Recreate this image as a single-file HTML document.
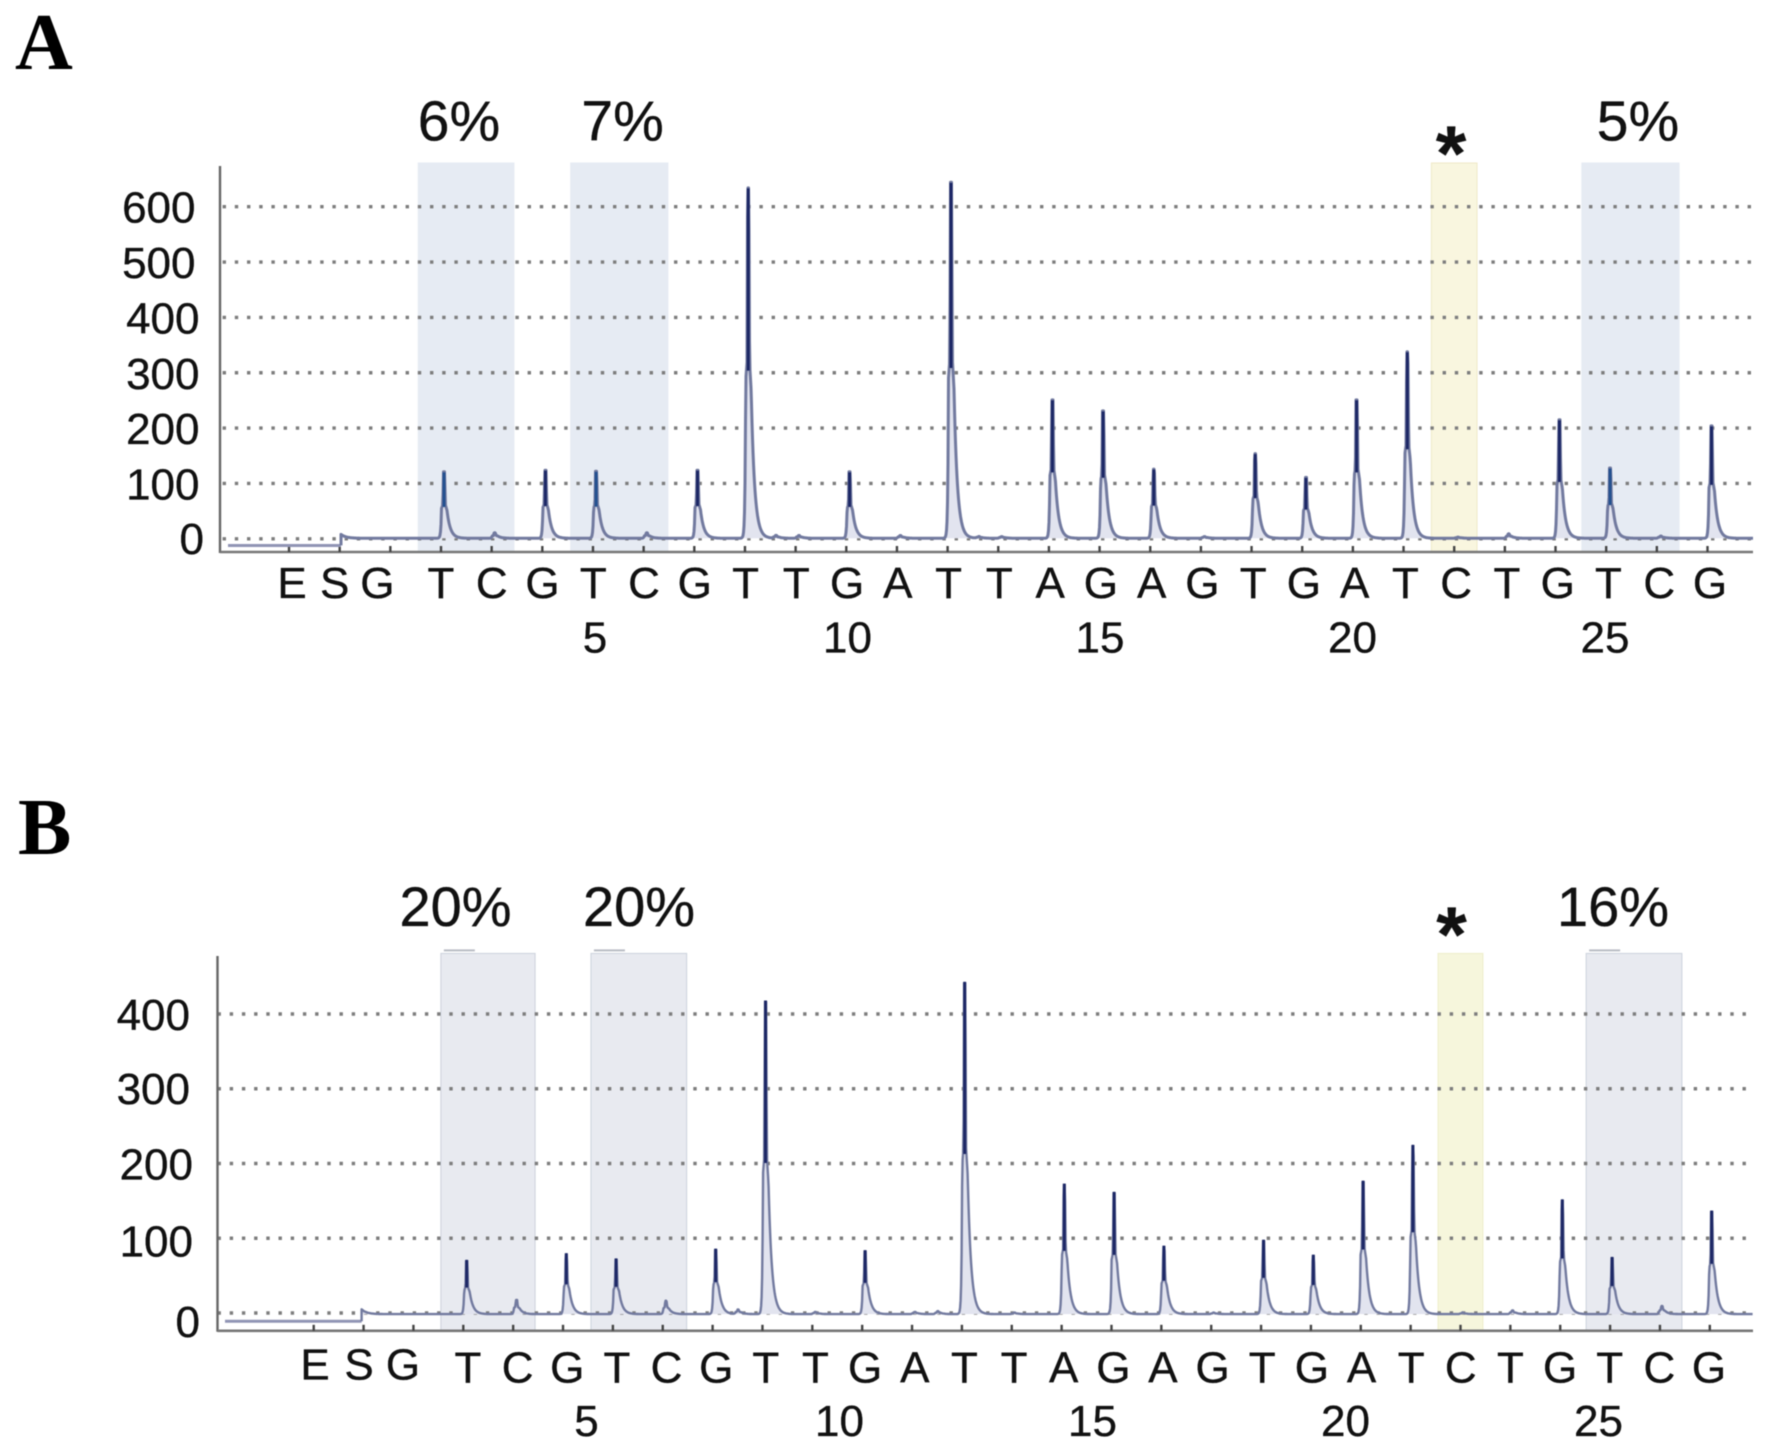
<!DOCTYPE html>
<html lang="en">
<head>
<meta charset="utf-8">
<title>Pyrogram panels A and B</title>
<style>
html,body{margin:0;padding:0;background:#fff;width:1772px;height:1454px;overflow:hidden}
svg{display:block;filter:blur(0.55px)}
text{font-family:"Liberation Sans",sans-serif;fill:#111;stroke:#111;stroke-width:0.35px}
.panel-letter{font-family:"Liberation Serif",serif;font-weight:700;font-size:80px;fill:#000;stroke:none}
</style>
</head>
<body>
<svg id="figure" xmlns="http://www.w3.org/2000/svg" width="1772" height="1454" viewBox="0 0 1772 1454">
  <text class="panel-letter" x="15" y="69">A</text>
  <text class="panel-letter" x="18" y="854">B</text>
</svg>
<script>
// Chart data
const headerLetters = ["E", "S", "G"];
const dispensationLetters = ["T","C","G","T","C","G","T","T","G","A","T","T","A","G","A","G","T","G","A","T","C","T","G","T","C","G"];
const positionLabels = [5, 10, 15, 20, 25];
const panelAYTicks = [0, 100, 200, 300, 400, 500, 600];
const panelBYTicks = [0, 100, 200, 300, 400];
const panelAPeakHeights = [120,10,123,121,10,123,633,5,120,5,643,3,250,230,125,3,153,110,250,337,2,8,214,127,4,203];
const panelBPeakHeights = [71,19,80,73,18,86,418,3,84,3,443,2,173,162,90,2,98,78,177,225,2,5,152,75,11,137];
const panelAMinorPeakSites = [6.55, 10.55];
const panelAMinorPeakHeights = [5, 3];
const panelBMinorPeakSites = [5.45, 9.46];
const panelBMinorPeakHeights = [6, 4];
const regionStarts = [-0.45, 2.56, 19.55, 22.52];
const regionEnds = [1.44, 4.48, 20.45, 24.44];
const regionKinds = ["blue", "blue", "yellow", "blue"];
const panelARegionLabels = ["6%", "7%", "*", "5%"];
const panelBRegionLabels = ["20%", "20%", "*", "16%"];

const svg = document.getElementById("figure");
const NS = "http://www.w3.org/2000/svg";

function make(tag, attrs) {
  const node = document.createElementNS(NS, tag);
  for (const key in attrs) node.setAttribute(key, attrs[key]);
  return node;
}

// Unit peak: near-vertical rise, narrow spike, shoulder, then a concave tail
function peakShape(dx) {
  if (dx < -2.5) return 0.45 * Math.exp((dx + 2.5) * 1.5);
  if (dx < -1.2) return 0.45 + (dx + 2.5) * 0.04;
  if (dx < -0.6) return 0.5 + (dx + 1.2) * 0.833;
  if (dx <= 0.6) return 1;
  if (dx < 1.4) return 1 - (dx - 0.6) * 0.625;
  if (dx < 3) return 0.5 - (dx - 1.4) * 0.05;
  return 0.42 * Math.exp(-(dx - 3) / 3.4);
}

function drawPanel(p) {
  const yScale = v => p.y0 - v * p.yPerUnit;
  const tickX = i => p.tick0 + p.tickStep * i;
  const peakX = i => p.peak0 + p.peakStep * i;
  const letterX = i => p.letter0 + p.letterStep * i;
  const headX = i => p.head0 + p.headStep * i;
  const numberX = n => p.number0 + p.numberStep * (n - 5);

  const group = make("g", {});
  
  
  svg.appendChild(group);

  const blueSpans = [];
  regionStarts.forEach((start, i) => {
    const x0 = tickX(start), x1 = tickX(regionEnds[i]);
    const blue = regionKinds[i] === "blue";
    if (blue) blueSpans.push([x0, x1]);
    const rect = make("rect", {
      x: x0, y: p.regionTop, width: x1 - x0, height: p.axisBottom - p.regionTop,
      fill: blue ? p.blueFill : p.yellowFill,
      stroke: blue ? p.blueEdge : p.yellowEdge, "stroke-width": 1
    });
    
    
    group.appendChild(rect);

    if (p.hasDashes && blue) {
      const dash = make("line", {
        x1: x0 + 3, x2: x0 + 34, y1: p.regionTop - 3, y2: p.regionTop - 3,
        stroke: "#b9bcc4", "stroke-width": 2
      });
      
      
      group.appendChild(dash);
    }

    const isStar = p.regionLabels[i] === "*";
    const label = make("text", {
      x: isStar ? p.starX : p.labelCenters(i),
      y: isStar ? p.starBaseline : p.percentBaseline,
      "text-anchor": "middle",
      "font-size": isStar ? 78 : p.percentSize,
      "font-weight": isStar ? 700 : 400
    });
    label.textContent = p.regionLabels[i];
    
    
    group.appendChild(label);
  });

  p.yTicks.forEach(v => {
    const grid = make("line", {
      x1: p.axisX, x2: p.axisRight, y1: yScale(v), y2: yScale(v),
      stroke: "#7d7d7d", "stroke-width": 3.4, "stroke-dasharray": "3.4 8.8",
      "stroke-dashoffset": p.dotPhase
    });
    
    
    group.appendChild(grid);

    const label = make("text", {
      x: p.labelRight(v), y: yScale(v) + p.labelDrop(v),
      "text-anchor": "end", "font-size": p.yLabelSize
    });
    label.textContent = v;
    
    
    group.appendChild(label);
  });

  const yAxis = make("line", {
    x1: p.axisX, x2: p.axisX, y1: p.axisTop, y2: p.axisBottom + 1,
    stroke: "#666", "stroke-width": 2.4
  });
  
  
  group.appendChild(yAxis);

  const xAxis = make("line", {
    x1: p.axisX, x2: p.axisRight, y1: p.axisBottom, y2: p.axisBottom,
    stroke: "#777", "stroke-width": 2.6
  });
  
  
  group.appendChild(xAxis);

  for (let i = -3; i < dispensationLetters.length; i++) {
    const tick = make("line", {
      x1: tickX(i), x2: tickX(i), y1: p.axisBottom - 6, y2: p.axisBottom,
      stroke: "#444", "stroke-width": 2.4
    });
    
    
    group.appendChild(tick);
  }

  // Low pre-run trace, then the step up to the measured signal
  const lead = make("line", {
    x1: p.leadStart, x2: p.stepX, y1: yScale(p.leadValue), y2: yScale(p.leadValue),
    stroke: "#9094b4", "stroke-width": 3
  });
  
  
  group.appendChild(lead);

  const sites = p.heights.map((h, i) => ({ x: peakX(i), h: h }));
  p.minorSites.forEach((site, i) => sites.push({ x: peakX(site), h: p.minorHeights[i] }));

  const signal = x => {
    let v = p.baseline + p.stepHeight * Math.exp(-(x - p.stepX) / 5);
    sites.forEach(s => { v += s.h * peakShape(x - s.x); });
    return v;
  };
  const samples = [];
  for (let x = p.stepX; x <= p.axisRight; x += 0.5) samples.push(x);
  samples.sort((a, b) => a - b);

  let line = "";
  samples.forEach(x => { line += "L" + x.toFixed(2) + " " + yScale(signal(x)).toFixed(1); });
  const baseY = yScale(p.baseline).toFixed(1);

  const body = make("path", {
    d: "M" + p.stepX + " " + baseY + line + "V" + baseY + "Z",
    fill: "#e2e4ef", stroke: "none"
  });
  
  
  group.appendChild(body);

  const trace = make("path", {
    d: "M" + p.stepX + " " + yScale(p.leadValue).toFixed(1) + line,
    fill: "none", stroke: "#727a9f", "stroke-width": p.traceWidth, "stroke-linejoin": "round"
  });
  
  
  group.appendChild(trace);

  p.heights.forEach((h, i) => {
    if (h < 30) return;
    const x = peakX(i);
    const inBlue = p.tintStems && blueSpans.some(s => x > s[0] && x < s[1]);
    const stem = make("line", {
      x1: x, x2: x, y1: yScale(h), y2: yScale(h * 0.48),
      stroke: inBlue ? "#24508f" : "#1c2765", "stroke-width": 3
    });
    
    
    group.appendChild(stem);
  });

  headerLetters.forEach((ch, i) => {
    const label = make("text", {
      x: headX(i), y: p.headBaseline, "text-anchor": "middle", "font-size": p.letterSize
    });
    label.textContent = ch;
    
    
    group.appendChild(label);
  });

  dispensationLetters.forEach((ch, i) => {
    const label = make("text", {
      x: letterX(i), y: p.letterBaseline, "text-anchor": "middle", "font-size": p.letterSize
    });
    label.textContent = ch;
    
    
    group.appendChild(label);
  });

  positionLabels.forEach(n => {
    const label = make("text", {
      x: numberX(n), y: p.numberBaseline, "text-anchor": "middle", "font-size": p.letterSize
    });
    label.textContent = n;
    
    
    group.appendChild(label);
  });
}

drawPanel({
  name: "panel-a",
  heights: panelAPeakHeights, minorSites: panelAMinorPeakSites, minorHeights: panelAMinorPeakHeights,
  yTicks: panelAYTicks, regionLabels: panelARegionLabels,
  y0: 538.8, yPerUnit: 0.5535, baseline: 1, traceWidth: 3, dotPhase: -2.6, tintStems: true,
  axisX: 220, axisRight: 1753, axisTop: 166, axisBottom: 552, regionTop: 163,
  tick0: 441, tickStep: 50.66, peak0: 444, peakStep: 50.7,
  letter0: 441, letterStep: 50.76, head0: 292, headStep: 42.7,
  number0: 595, numberStep: 50.5,
  blueFill: "#e6ebf3", blueEdge: "#e6ebf3", yellowFill: "#f9f6df", yellowEdge: "#efe9c8",
  hasDashes: false,
  labelCenters: i => [459, 622.6, 0, 1638][i],
  percentBaseline: 140.6, percentSize: 57, starX: 1451, starBaseline: 180,
  labelRight: v => v === 0 ? 204 : v >= 500 ? 195.5 : 199.5,
  labelDrop: v => v === 0 ? 15 : 16,
  yLabelSize: 44, letterSize: 44,
  leadStart: 228, stepX: 341, leadValue: -12, stepHeight: 7,
  headBaseline: 598, letterBaseline: 598, numberBaseline: 652.7
});

drawPanel({
  name: "panel-b",
  heights: panelBPeakHeights, minorSites: panelBMinorPeakSites, minorHeights: panelBMinorPeakHeights,
  yTicks: panelBYTicks, regionLabels: panelBRegionLabels,
  y0: 1313, yPerUnit: 0.7475, baseline: -1.5, traceWidth: 2.4, dotPhase: 0, tintStems: false,
  axisX: 217.5, axisRight: 1753, axisTop: 956, axisBottom: 1330.8, regionTop: 953.4,
  tick0: 463.3, tickStep: 49.86, peak0: 466.7, peakStep: 49.8,
  letter0: 468, letterStep: 49.64, head0: 315, headStep: 44,
  number0: 586.5, numberStep: 50.6,
  blueFill: "#e8eaf0", blueEdge: "#ccd2dc", yellowFill: "#f6f6dc", yellowEdge: "#eeeecb",
  hasDashes: true,
  labelCenters: i => [455.5, 639, 0, 1613][i],
  percentBaseline: 926, percentSize: 56, starX: 1451.5, starBaseline: 961,
  labelRight: v => v === 0 ? 200 : v >= 300 ? 190 : 193,
  labelDrop: v => v === 0 ? 24 : v === 100 ? 18 : v === 200 ? 16 : v === 300 ? 15 : 16,
  yLabelSize: 44, letterSize: 44,
  leadStart: 225, stepX: 361.6, leadValue: -11, stepHeight: 6.5,
  headBaseline: 1379.5, letterBaseline: 1382.6, numberBaseline: 1436
});
</script>
</body>
</html>
